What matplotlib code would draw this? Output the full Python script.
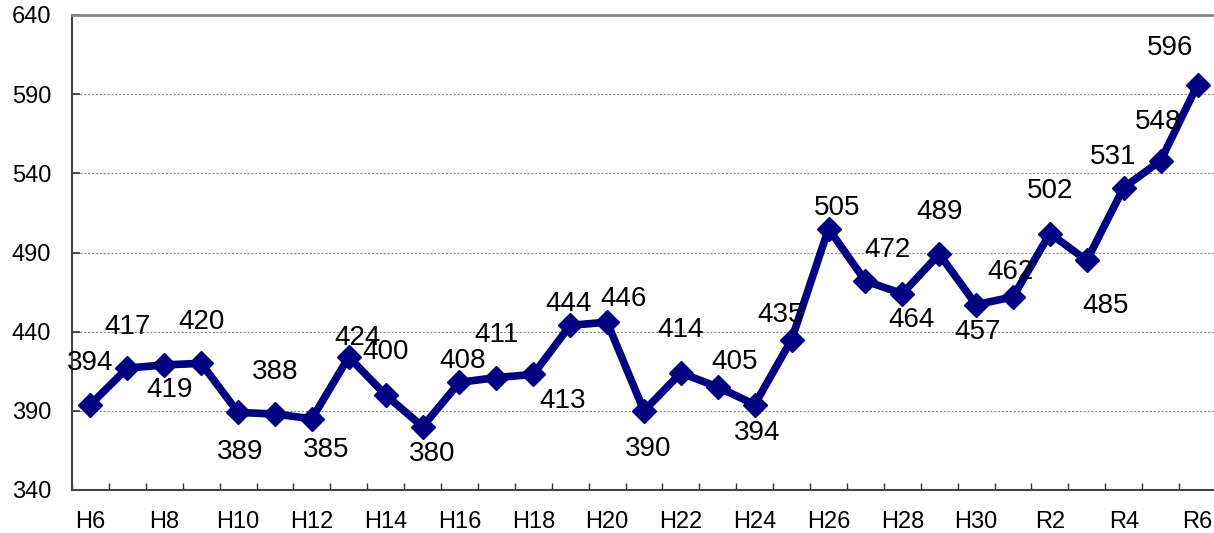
import matplotlib
matplotlib.use("Agg")
import matplotlib.pyplot as plt
from matplotlib.ticker import FixedLocator

years = ["H6", "H7", "H8", "H9", "H10", "H11", "H12", "H13", "H14", "H15",
         "H16", "H17", "H18", "H19", "H20", "H21", "H22", "H23", "H24", "H25",
         "H26", "H27", "H28", "H29", "H30", "H31", "R2", "R3", "R4", "R5", "R6"]
values = [394, 417, 419, 420, 389, 388, 385, 424, 400, 380,
          408, 411, 413, 444, 446, 390, 414, 405, 394, 435,
          505, 472, 464, 489, 457, 462, 502, 485, 531, 548, 596]
tick_labels = ["H6", "H8", "H10", "H12", "H14", "H16", "H18", "H20", "H22",
               "H24", "H26", "H28", "H30", "R2", "R4", "R6"]
y_ticks = [340, 390, 440, 490, 540, 590, 640]

# label offsets in pixels (dx right, dy down)
label_dx = [0, 0, 5, 0, 2, 0, 14, 9, 0, 10, 3, 0, 29, -2, 16, 4, 0, 17, 2, -11,
            9, 22, 9, 0, 1, -3, 0, 19, -11, -3, -28]
label_dy = [-41, -41, 25, -41, 40, -42, 31, -19, -43, 27, -21, -43, 27, -21, -23,
            38, -43, -25, 28, -25, -21, -31, 26, -42, 27, -25, -42, 46, -31, -39, -37]

plt.rcParams['font.family'] = ['Liberation Sans', 'DejaVu Sans']

W, H = 1214, 533
fig = plt.figure(figsize=(W / 100, H / 100), dpi=100)
ax = fig.add_axes([72 / W, 1 - 490 / H, (1216 - 72) / W, (490 - 15) / H])

x = list(range(len(values)))
ax.plot(x, values, color='#000080', linewidth=5.5, marker='D', markersize=12.5,
        markeredgewidth=1, markeredgecolor='#000080', zorder=3)

for xi, v, dx, dy in zip(x, values, label_dx, label_dy):
    ax.annotate(str(v), (xi, v), xytext=(dx, -dy), textcoords='offset pixels',
                ha='center', va='center', fontsize=20, color='black', zorder=4)

ax.set_xlim(-0.5, len(values) - 0.5)
ax.set_ylim(340, 640)

label_pos = [years.index(t) for t in tick_labels]
ax.set_xticks(label_pos)
ax.set_xticklabels(tick_labels)
ax.xaxis.set_minor_locator(FixedLocator([i - 0.5 for i in range(len(values) + 1)]))
ax.tick_params(axis='x', which='major', length=0, pad=15, labelsize=17)
ax.tick_params(axis='x', which='minor', direction='in', length=5, width=1, color='#333333')

ax.set_yticks(y_ticks)
ax.set_yticklabels([str(t) for t in y_ticks])
ax.tick_params(axis='y', direction='in', length=5.5, width=1.2, color='#333333',
               pad=15, labelsize=17)

for t in y_ticks[1:-1]:
    ax.axhline(t, color='#888888', linestyle=(0, (2, 1.5)), linewidth=0.8, zorder=1)

ax.spines['right'].set_visible(False)
ax.spines['top'].set_color('#888888')
ax.spines['top'].set_linewidth(2)
ax.spines['left'].set_color('#444444')
ax.spines['left'].set_linewidth(1.5)
ax.spines['bottom'].set_color('#444444')
ax.spines['bottom'].set_linewidth(1.5)

fig.savefig('out.png', dpi=100)
